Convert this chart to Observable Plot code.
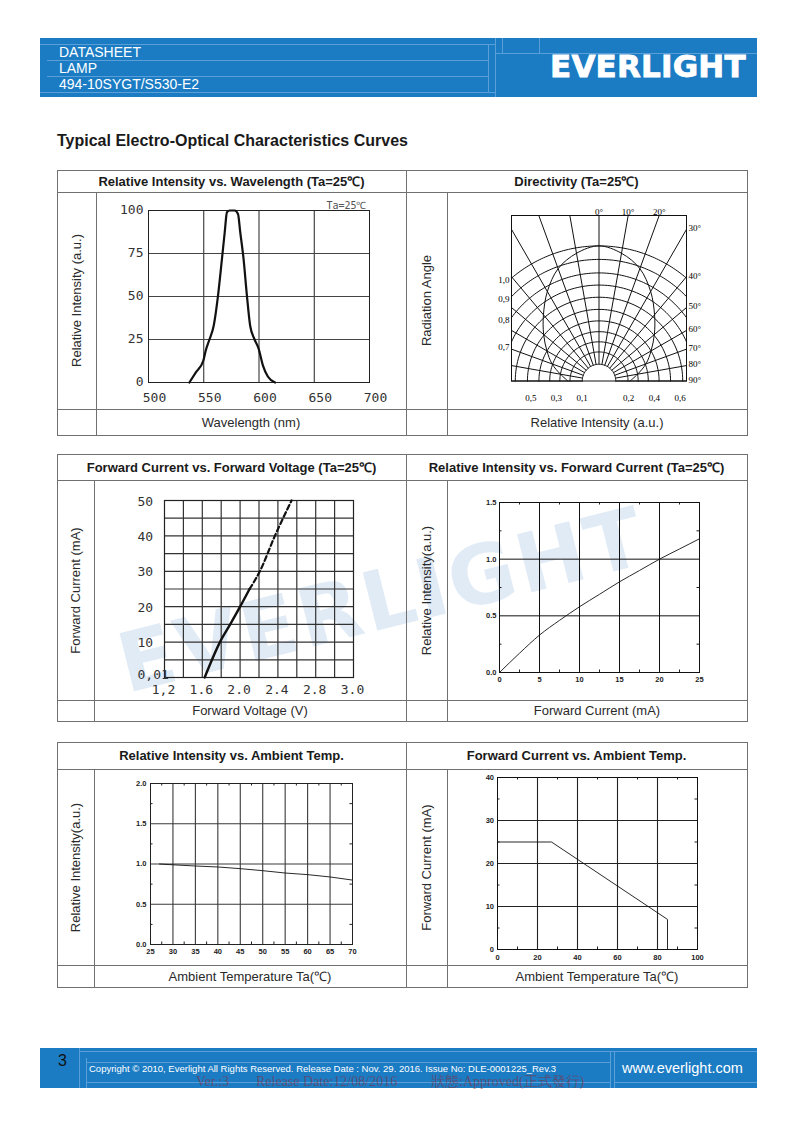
<!DOCTYPE html>
<html><head><meta charset="utf-8">
<script src="https://cdn.jsdelivr.net/npm/d3@7"></script>
<script src="https://cdn.jsdelivr.net/npm/@observablehq/plot@0.6"></script>
<style>
html,body{margin:0;padding:0;background:#fff;}
#page{position:relative;width:794px;height:1123px;overflow:hidden;font-family:"Liberation Sans",Arial,sans-serif;color:#222;}
#page div{position:absolute;box-sizing:content-box;}
.hl{height:0;border-top:1px solid #707070;}
.vl{width:0;border-left:1px solid #707070;}
.ttl{display:flex;align-items:center;justify-content:center;font-weight:bold;font-size:13px;color:#1a1a1a;white-space:nowrap;}
.lab{display:flex;align-items:center;justify-content:center;font-size:13px;color:#2a2a2a;white-space:nowrap;}
.rot span{display:block;transform:rotate(-90deg);white-space:nowrap;}
.txt{white-space:nowrap;}
</style></head><body><div id="page"></div><script>
// ---------------- DATA ----------------
const docLines = ["DATASHEET", "LAMP", "494-10SYGT/S530-E2"];
const logoText = "EVERLIGHT";
const pageTitle = "Typical Electro-Optical Characteristics Curves";
const panelTitles = ["Relative Intensity vs. Wavelength (Ta=25℃)", "Directivity (Ta=25℃)",
  "Forward Current vs. Forward Voltage (Ta=25℃)", "Relative Intensity vs. Forward Current (Ta=25℃)",
  "Relative Intensity vs. Ambient Temp.", "Forward Current vs. Ambient Temp."];
const panelYLabels = ["Relative Intensity (a.u.)", "Radiation Angle", "Forward Current (mA)",
  "Relative Intensity(a.u.)", "Relative Intensity(a.u.)", "Forward Current (mA)"];
const panelXLabels = ["Wavelength (nm)", "Relative Intensity (a.u.)", "Forward Voltage (V)",
  "Forward Current (mA)", "Ambient Temperature Ta(℃)", "Ambient Temperature Ta(℃)"];
const pageNumber = "3";
const copyrightText = "Copyright © 2010, Everlight All Rights Reserved. Release Date : Nov. 29. 2016. Issue No: DLE-0001225_Rev.3";
const websiteText = "www.everlight.com";
const stampTexts = ["Ver.:3", "Release Date:12/08/2016", "狀態:Approved(正式發行)"];
const watermarkText = "EVERLIGHT";

// Chart 1: spectrum
const wlNm  = [537, 543, 549.5, 552, 555, 559, 563, 566.5, 569, 571, 573.5, 578, 581, 583, 586, 589, 592, 596, 599.5, 603.5, 608, 614.5];
const wlRel = [0, 6, 12.5, 19, 24.7, 33, 51, 72, 87.5, 99, 100, 100, 98, 87.5, 72, 51, 33, 25, 20, 10, 3.5, 0];
const wlTicksX = [500, 550, 600, 650, 700];
const wlTicksY = [0, 25, 50, 75, 100];
const wlGridX = [550, 600, 650];
const wlGridY = [25, 50, 75];
const wlNote = "Ta=25℃";

// Chart 2: directivity
const dirRayAngles = [-90, -80, -70, -60, -50, -40, -30, -20, -10, 0, 10, 20, 30, 40, 50, 60, 70, 80, 90];
const dirArcR = [0.124, 0.215, 0.29, 0.365, 0.445, 0.53, 0.62, 0.71, 0.8, 0.9, 1.0];
const dirLabelAngles = [0, 10, 20, 30, 40, 50, 60, 70, 80, 90];
const dirPatternAngle = [0, 10, 20, 30, 40, 50, 60, 70, 80, 90];
const dirPatternRel = [1.0, 0.96, 0.885, 0.765, 0.64, 0.535, 0.445, 0.37, 0.29, 0.23];
const dirLeftLabels = [1.0, 0.9, 0.8, 0.7];
const dirBottomLabels = [-0.5, -0.3, -0.1, 0.2, 0.4, 0.6];

// Chart 3: forward current vs forward voltage
const ivV = [1.625, 1.787, 1.895, 2.0, 2.1, 2.209, 2.368, 2.545];
const ivI = [0, 10, 15, 20, 25, 30, 40, 50];
const ivSolidMax = 25;
const ivGridV = [1.4, 1.6, 1.8, 2.0, 2.2, 2.4, 2.6, 2.8, 3.0];
const ivGridI = [5, 10, 15, 20, 25, 30, 35, 40, 45];
const ivTickV = [1.2, 1.6, 2.0, 2.4, 2.8, 3.2];
const ivTickVText = ["1,2", "1.6", "2.0", "2.4", "2.8", "3.0"];
const ivTickI = [10, 20, 30, 40, 50];
const ivTickIText = ["10", "20", "30", "40", "50"];
const ivTickZero = [0];
const ivTickZeroText = ["0,01"];

// Chart 4: relative intensity vs forward current
const ifI = [0, 2.5, 5, 7.5, 10, 12.5, 15, 17.5, 20, 22.5, 25];
const ifRel = [0, 0.17, 0.33, 0.46, 0.58, 0.69, 0.8, 0.9, 1.0, 1.09, 1.18];
const ifTicksX = [0, 5, 10, 15, 20, 25];
const ifTicksY = [0, 0.5, 1.0, 1.5];
const ifMinorX = [2.5, 7.5, 12.5, 17.5, 22.5];
const ifMinorY = [0.25, 0.75, 1.25];

// Chart 5: relative intensity vs ambient temperature
const taT = [27, 30, 35, 40, 45, 50, 55, 60, 65, 70];
const taRel = [1.0, 0.99, 0.975, 0.963, 0.942, 0.917, 0.888, 0.868, 0.839, 0.80];
const taTicksX = [25, 30, 35, 40, 45, 50, 55, 60, 65, 70];
const taTicksY = [0, 0.5, 1.0, 1.5, 2.0];
const taMinorX = [27.5, 32.5, 37.5, 42.5, 47.5, 52.5, 57.5, 62.5, 67.5];
const taMinorY = [0.25, 0.75, 1.25, 1.75];

// Chart 6: forward current derating
const derT = [0, 27, 85, 85];
const derI = [25, 25, 7, 0];
const derTicksX = [0, 20, 40, 60, 80, 100];
const derTicksY = [0, 10, 20, 30, 40];
const derMinorX = [10, 30, 50, 70, 90];
const derMinorY = [5, 15, 25, 35];

// ---------------- LAYOUT HELPERS ----------------
const page = document.getElementById("page");
function div(cls, left, top, w, h, html, style = "") {
  const d = document.createElement("div");
  d.className = cls;
  d.style.cssText = `left:${left}px;top:${top}px;` + (w != null ? `width:${w}px;` : "") + (h != null ? `height:${h}px;` : "") + style;
  if (html != null) d.innerHTML = html;
  page.appendChild(d);
  return d;
}
const hline = (x1, x2, y, c) => div("hl", x1, y, x2 - x1, null, null, c ? `border-top-color:${c};` : "");
const vline = (x, y1, y2, c) => div("vl", x, y1, null, y2 - y1, null, c ? `border-left-color:${c};` : "");

// watermark (behind everything)
div("txt", 382, 600, null, null, watermarkText,
  "transform:translate(-50%,-50%) rotate(-14deg);font-family:'DejaVu Sans';font-weight:bold;font-size:82px;letter-spacing:3px;color:#e1ebf6;");

// header
const BLUE = "#1b7cc4", LB = "#5b9fd8";
div("", 40, 38, 717, 59, null, `background:${BLUE};`);
hline(40, 495, 44, LB); hline(47, 488, 60, LB); hline(47, 488, 76, LB); hline(40, 495, 92, LB);
vline(488, 44, 92, LB); vline(495, 38, 97, LB); hline(495, 757, 53, LB);
vline(502, 38, 53, LB); vline(539, 38, 53, LB);
docLines.forEach((t, i) => div("txt", 59, 44 + i * 16.2, null, null, t,
  "font-size:14px;line-height:16px;color:#fff;"));
div("txt", 550, 50, null, null, logoText,
  "font-family:'DejaVu Sans';font-weight:bold;font-size:31px;line-height:32px;letter-spacing:0.2px;color:#fff;-webkit-text-stroke:0.8px #fff;");

// page title
div("txt", 57, 132, null, null, pageTitle, "font-weight:bold;font-size:16px;line-height:18px;color:#1a1a1a;");

// tables
const X0 = 57, XM_ = 406, XR = 747, RSEP = 447;
const tables = [
  {top: 170, tRow: 192, body: 409, bottom: 435, lsep: 96},
  {top: 454, tRow: 480, body: 700, bottom: 721, lsep: 94},
  {top: 742, tRow: 769, body: 965, bottom: 987, lsep: 94},
];
tables.forEach((t, k) => {
  hline(X0, XR, t.top); hline(X0, XR, t.tRow); hline(X0, XR, t.body); hline(X0, XR + 1, t.bottom);
  vline(X0, t.top, t.bottom); vline(XM_, t.top, t.bottom); vline(XR, t.top, t.bottom);
  vline(t.lsep, t.tRow, t.bottom); vline(RSEP, t.tRow, t.bottom);
  div("ttl", X0, t.top, XM_ - X0, t.tRow - t.top, panelTitles[2 * k]);
  div("ttl", XM_, t.top, XR - XM_, t.tRow - t.top, panelTitles[2 * k + 1]);
  div("lab rot", X0, t.tRow, t.lsep - X0, t.body - t.tRow, `<span>${panelYLabels[2 * k]}</span>`);
  div("lab rot", XM_, t.tRow, RSEP - XM_, t.body - t.tRow, `<span>${panelYLabels[2 * k + 1]}</span>`);
  div("lab", t.lsep, t.body, XM_ - t.lsep, t.bottom - t.body, panelXLabels[2 * k]);
  div("lab", RSEP, t.body, XR - RSEP, t.bottom - t.body, panelXLabels[2 * k + 1]);
});

// footer
div("", 40, 1048, 717, 40, null, `background:${BLUE};`);
vline(79, 1048, 1088, LB); vline(86, 1058, 1088, LB); hline(79, 757, 1051, LB); hline(86, 610, 1062, LB);
hline(86, 610, 1082, LB); vline(610, 1051, 1088, LB); vline(614, 1051, 1088, LB); hline(614, 757, 1082, LB);
div("txt", 58, 1052, null, null, pageNumber, "font-size:16px;line-height:18px;color:#111;");
div("txt", 89, 1064, null, null, copyrightText, "font-size:9.5px;line-height:10px;color:#fff;");
div("txt", 622, 1060, null, null, websiteText, "font-size:14.5px;line-height:17px;color:#fff;");
[196, 256, 431].forEach((x, i) => div("txt", x, 1074.5, null, null, stampTexts[i],
  "font-family:'Liberation Serif',serif;font-size:14px;line-height:14px;color:rgba(150,30,40,0.5);"));

// ---------------- CHARTS ----------------
const svgStyle = "display:block;background:transparent;overflow:visible;font-family:'Liberation Sans',Arial,sans-serif;";
const mono = {fontFamily: "DejaVu Sans Mono", fontSize: 13, fill: "#333"};
const small = {fontFamily: "'Liberation Sans Narrow','Arial Narrow','Liberation Sans',sans-serif", fontSize: 7.5, fontWeight: "bold", fill: "#222"};
function mount(svg, left, top) { const d = div("", left, top); d.appendChild(svg); }
function edgeTicks(xs, ys, xd, yd, w, h, len = 3) {
  const dy = (yd[1] - yd[0]) / h * len, dx = (xd[1] - xd[0]) / w * len;
  const o = {stroke: "#222", strokeWidth: 1};
  return [
    Plot.ruleX(xs, {x: d => d, y1: yd[1], y2: yd[1] - dy, ...o}),
    Plot.ruleX(xs, {x: d => d, y1: yd[0], y2: yd[0] + dy, ...o}),
    Plot.ruleY(ys, {y: d => d, x1: xd[1], x2: xd[1] - dx, ...o}),
    Plot.ruleY(ys, {y: d => d, x1: xd[0], x2: xd[0] + dx, ...o}),
  ];
}

// Chart 1
{
  const spec = wlNm.map((nm, i) => ({nm, rel: wlRel[i]}));
  const svg = Plot.plot({
    width: 310, height: 217, marginLeft: 52, marginRight: 37, marginTop: 18, marginBottom: 27,
    style: svgStyle,
    x: {domain: [500, 700], axis: null}, y: {domain: [0, 100], axis: null},
    marks: [
      Plot.ruleX(wlGridX, {x: d => d, stroke: "#222"}),
      Plot.ruleY(wlGridY, {y: d => d, stroke: "#444"}),
      Plot.frame({stroke: "#222"}),
      Plot.line(spec, {x: "nm", y: "rel", curve: "monotone-x", stroke: "#111", strokeWidth: 2.2}),
      Plot.text(wlTicksX, {x: d => d, y: () => 0, text: d => String(d), dx: 6, dy: 15, ...mono}),
      Plot.text(wlTicksY, {x: () => 500, y: d => d, text: d => String(d), textAnchor: "end", dx: -5, dy: -1, ...mono}),
      Plot.text([wlNote], {x: () => 700, y: () => 100, text: d => d, textAnchor: "end", lineAnchor: "bottom", dx: -3, dy: -2,
        fontFamily: "DejaVu Sans Mono", fontSize: 10, fill: "#555"}),
    ]
  });
  mount(svg, 96, 192);
}

// Chart 2: directivity (polar grid in cartesian units, outer arc = 1)
{
  const XM = 0.648, YM = 1.225, R0 = dirArcR[0];
  const rad = a => a * Math.PI / 180;
  const arcPts = dirArcR.flatMap(r => {
    const tm = r > XM ? Math.asin(XM / r) : Math.PI / 2;
    return d3.range(81).map(i => { const t = -tm + 2 * tm * i / 80; return {r, x: r * Math.sin(t), y: r * Math.cos(t)}; });
  });
  const rayEnd = a => {
    const s = Math.sin(rad(a)), c = Math.cos(rad(a));
    const lx = Math.abs(s) > 1e-9 ? XM / Math.abs(s) : Infinity;
    const ly = c > 1e-9 ? YM / c : Infinity;
    const L = Math.min(lx, ly);
    return {x: L * s, y: Math.max(0, L * c), top: ly <= lx};
  };
  const rays = dirRayAngles.flatMap(a => {
    const e = rayEnd(a);
    return [{a, x: R0 * Math.sin(rad(a)), y: R0 * Math.cos(rad(a))}, {a, x: e.x, y: e.y}];
  });
  const pat = [...dirPatternAngle.slice(1).reverse().map(a => ({a: -a, v: dirPatternRel[dirPatternAngle.indexOf(a)]})),
    ...dirPatternAngle.map((a, i) => ({a, v: dirPatternRel[i]}))]
    .map(d => ({x: d.v * Math.sin(rad(d.a)), y: d.v * Math.cos(rad(d.a))}));
  const labs = dirLabelAngles.map(a => ({a, ...rayEnd(a)}));
  const serif = {fontFamily: "'Liberation Serif',serif", fontSize: 9, fill: "#000"};
  const fmt = v => v.toFixed(1).replace(".", ",");
  const svg = Plot.plot({
    width: 300, height: 217, marginLeft: 64, marginRight: 61, marginTop: 23, marginBottom: 28.5,
    style: svgStyle,
    x: {domain: [-XM, XM], axis: null}, y: {domain: [0, YM], axis: null},
    marks: [
      Plot.line(arcPts, {x: "x", y: "y", z: "r", stroke: "#111", strokeWidth: 1}),
      Plot.line(rays, {x: "x", y: "y", z: "a", stroke: "#111", strokeWidth: 1}),
      Plot.line(pat, {x: "x", y: "y", curve: "catmull-rom", stroke: "#111", strokeWidth: 1}),
      Plot.frame({stroke: "#111"}),
      Plot.text(labs.filter(d => d.top), {x: "x", y: "y", text: d => d.a + "°", lineAnchor: "bottom", dy: -1, ...serif}),
      Plot.text(labs.filter(d => !d.top), {x: "x", y: "y", text: d => d.a + "°", textAnchor: "start", dx: 2, dy: -1, ...serif}),
      Plot.text(dirLeftLabels, {x: () => -XM, y: v => Math.sqrt(v * v - XM * XM), text: fmt, textAnchor: "end", dx: -2, dy: 2, ...serif}),
      Plot.text(dirBottomLabels, {x: v => Math.sign(v) * (0.03 + 0.95 * Math.abs(v)), y: () => 0, text: v => fmt(Math.abs(v)), lineAnchor: "top", dy: 14, ...serif}),
    ]
  });
  mount(svg, 447, 192);
}

// Chart 3: IV
{
  const pts = ivV.map((v, i) => ({v, i: ivI[i]}));
  const svg = Plot.plot({
    width: 312, height: 220, marginLeft: 70, marginRight: 53, marginTop: 20, marginBottom: 23,
    style: svgStyle,
    x: {domain: [1.2, 3.2], axis: null}, y: {domain: [0, 50], axis: null},
    marks: [
      Plot.ruleX(ivGridV, {x: d => d, stroke: "#333", strokeWidth: 1.2}),
      Plot.ruleY(ivGridI, {y: d => d, stroke: "#333", strokeWidth: 1.2}),
      Plot.frame({stroke: "#222", strokeWidth: 1.2}),
      Plot.line(pts.filter(d => d.i <= ivSolidMax), {x: "v", y: "i", curve: "monotone-x", stroke: "#111", strokeWidth: 2.4}),
      Plot.line(pts.filter(d => d.i >= ivSolidMax), {x: "v", y: "i", curve: "monotone-x", stroke: "#111", strokeWidth: 2.2, strokeDasharray: "5,3"}),
      Plot.text(ivTickV, {x: d => d, y: () => 0, text: (d, i) => ivTickVText[i], dx: -1, dy: 12, ...mono}),
      Plot.text(ivTickI, {x: () => 1.2, y: d => d, text: (d, i) => ivTickIText[i], textAnchor: "start", dx: -27, dy: 1, ...mono}),
      Plot.text(ivTickZero, {x: () => 1.2, y: d => d, text: (d, i) => ivTickZeroText[i], textAnchor: "start", dx: -27, dy: -3, ...mono}),
    ]
  });
  mount(svg, 94, 480);
}

// Chart 4: relative intensity vs forward current
{
  const pts = ifI.map((c, i) => ({c, r: ifRel[i]}));
  const svg = Plot.plot({
    width: 300, height: 220, marginLeft: 52, marginRight: 48, marginTop: 22, marginBottom: 28,
    style: svgStyle,
    x: {domain: [0, 25], axis: null}, y: {domain: [0, 1.5], axis: null},
    marks: [
      Plot.ruleX([5, 10, 15, 20], {x: d => d, stroke: "#111"}),
      Plot.ruleY([0.5, 1.0], {y: d => d, stroke: "#111"}),
      ...edgeTicks(ifMinorX, ifMinorY, [0, 25], [0, 1.5], 200, 170, 2.5),
      Plot.frame({stroke: "#111"}),
      Plot.line(pts, {x: "c", y: "r", curve: "monotone-x", stroke: "#111", strokeWidth: 0.9}),
      Plot.text(ifTicksX, {x: d => d, y: () => 0, text: d => String(d), dy: 7.5, ...small}),
      Plot.text(ifTicksY, {x: () => 0, y: d => d, text: d => d.toFixed(1), textAnchor: "end", dx: -3, ...small}),
    ]
  });
  mount(svg, 447, 480);
}

// Chart 5: relative intensity vs ambient temperature
{
  const pts = taT.map((t, i) => ({t, r: taRel[i]}));
  const svg = Plot.plot({
    width: 312, height: 196, marginLeft: 56, marginRight: 54, marginTop: 14, marginBottom: 21,
    style: svgStyle,
    x: {domain: [25, 70], axis: null}, y: {domain: [0, 2], axis: null},
    marks: [
      Plot.ruleX(taTicksX.slice(1, -1), {x: d => d, stroke: "#3a3a3a", strokeWidth: 1.1}),
      Plot.ruleY([0.5, 1.0, 1.5], {y: d => d, stroke: "#3a3a3a", strokeWidth: 1.1}),
      ...edgeTicks(taMinorX, taMinorY, [25, 70], [0, 2], 202, 161, 2.5),
      Plot.frame({stroke: "#222"}),
      Plot.line(pts, {x: "t", y: "r", stroke: "#111", strokeWidth: 0.9}),
      Plot.text(taTicksX, {x: d => d, y: () => 0, text: d => String(d), dy: 7, ...small}),
      Plot.text(taTicksY, {x: () => 25, y: d => d, text: d => d.toFixed(1), textAnchor: "end", dx: -4, ...small}),
    ]
  });
  mount(svg, 94, 769);
}

// Chart 6: forward current vs ambient temperature
{
  const pts = derT.map((t, i) => ({t, c: derI[i]}));
  const svg = Plot.plot({
    width: 300, height: 196, marginLeft: 50, marginRight: 50, marginTop: 8, marginBottom: 16,
    style: svgStyle,
    x: {domain: [0, 100], axis: null}, y: {domain: [0, 40], axis: null},
    marks: [
      Plot.ruleX([20, 40, 60, 80], {x: d => d, stroke: "#222", strokeWidth: 1.1}),
      Plot.ruleY([10, 20, 30], {y: d => d, stroke: "#222", strokeWidth: 1.1}),
      ...edgeTicks(derMinorX, derMinorY, [0, 100], [0, 40], 200, 172, 2.5),
      Plot.frame({stroke: "#111"}),
      Plot.line(pts, {x: "t", y: "c", stroke: "#111", strokeWidth: 0.9}),
      Plot.text(derTicksX, {x: d => d, y: () => 0, text: d => String(d), dy: 8, ...small}),
      Plot.text(derTicksY, {x: () => 0, y: d => d, text: d => String(d), textAnchor: "end", dx: -3.5, ...small}),
    ]
  });
  mount(svg, 447, 769);
}
</script></body></html>
